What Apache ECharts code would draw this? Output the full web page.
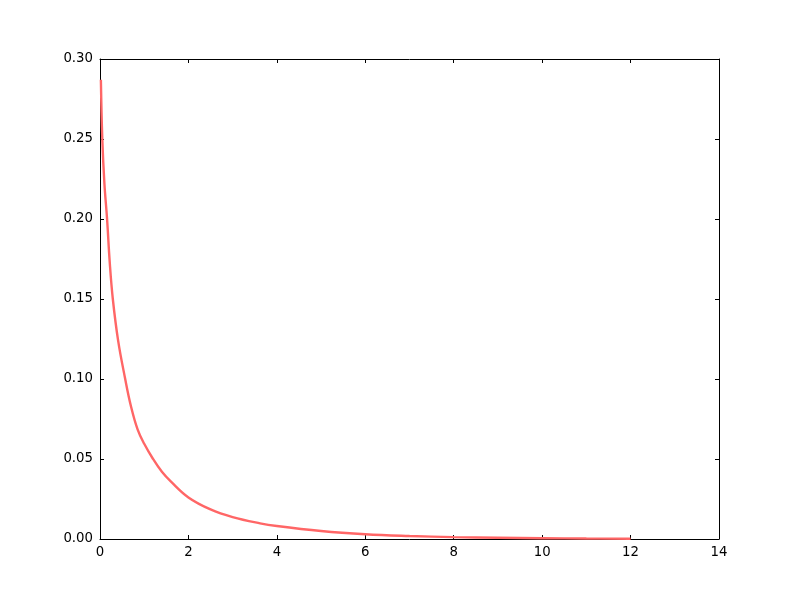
<!DOCTYPE html>
<html>
<head>
<meta charset="utf-8">
<script src="https://cdn.jsdelivr.net/npm/echarts@6/dist/echarts.min.js"></script>
<style>html,body{margin:0;padding:0;background:#fff;}#c{width:800px;height:600px;}</style>
</head>
<body>
<div id="c"></div>
<script>
const xValues = [0.02, 0.052, 0.10, 0.16, 0.22, 0.29, 0.41, 0.57, 0.70, 0.85, 1.0, 1.2, 1.4, 1.6, 2.0, 2.5, 3.0, 3.62, 4.0, 5.0, 6.0, 7.0, 8.0, 9.0, 10.0, 11.0, 12.0];
const yValues = [0.287, 0.25, 0.222, 0.20, 0.173, 0.15, 0.124, 0.10, 0.083, 0.0685, 0.0595, 0.050, 0.042, 0.036, 0.026, 0.0185, 0.0137, 0.0098, 0.0081, 0.0050, 0.0030, 0.0019, 0.0012, 0.0008, 0.0005, 0.0003, 0.0002];
const xTicks = [0, 2, 4, 6, 8, 10, 12, 14];
const yTicks = ['0.00', '0.05', '0.10', '0.15', '0.20', '0.25', '0.30'];

const pts = xValues.map((x, i) => [x, yValues[i]]);
const font = {fontFamily: 'DejaVu Sans', fontSize: 13.3, color: '#000'};
const line = {show: true, onZero: false, lineStyle: {color: '#000', width: 1}};
const tick = {show: true, inside: true, length: 4, lineStyle: {color: '#000', width: 1}};

const chart = echarts.init(document.getElementById('c'), null, {renderer: 'canvas'});
chart.setOption({
  animation: false,
  backgroundColor: '#fff',
  grid: {left: 100, right: 81, top: 59, bottom: 61, containLabel: false},
  xAxis: [
    {type: 'value', min: xTicks[0], max: xTicks[xTicks.length - 1], interval: 2, position: 'bottom',
     axisLine: line, axisTick: tick, splitLine: {show: false},
     axisLabel: Object.assign({margin: 7}, font)},
    {type: 'value', min: xTicks[0], max: xTicks[xTicks.length - 1], interval: 2, position: 'top',
     axisLine: line, axisTick: tick, splitLine: {show: false}, axisLabel: {show: false}}
  ],
  yAxis: [
    {type: 'value', min: 0, max: 0.30, interval: 0.05, position: 'left',
     axisLine: line, axisTick: tick, splitLine: {show: false},
     axisLabel: Object.assign({margin: 7, formatter: (v) => yTicks[Math.round(v / 0.05)]}, font)},
    {type: 'value', min: 0, max: 0.30, interval: 0.05, position: 'right',
     axisLine: line, axisTick: tick, splitLine: {show: false}, axisLabel: {show: false}}
  ],
  series: [{
    type: 'line', data: pts, xAxisIndex: 0, yAxisIndex: 0,
    showSymbol: false, smooth: 0.4,
    lineStyle: {color: '#ff6666', width: 2.4}
  }]
});
</script>
</body>
</html>
